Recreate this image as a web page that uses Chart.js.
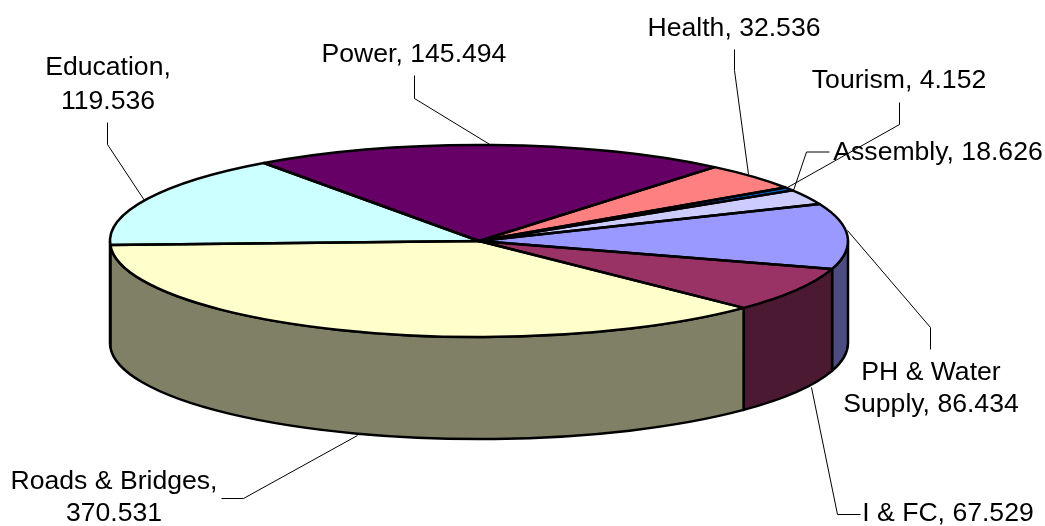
<!DOCTYPE html>
<html>
<head>
<meta charset="utf-8">
<title>Sector outlay</title>
<script src="https://cdn.jsdelivr.net/npm/chart.js@4"></script>
<style>
  html, body { margin: 0; padding: 0; background: #fff; }
  #wrap { width: 1045px; height: 526px; }
</style>
</head>
<body>
<div id="wrap"><canvas id="myChart" width="1045" height="526"></canvas></div>
<script>
const categories = ['Power', 'Health', 'Tourism', 'Assembly', 'PH & Water Supply', 'I & FC', 'Roads & Bridges', 'Education'];
const values = [145.494, 32.536, 4.152, 18.626, 86.434, 67.529, 370.531, 119.536];
const topColours = ['#660066', '#FF8080', '#0066CC', '#CCCCFF', '#9999FF', '#993366', '#FFFFCC', '#CCFFFF'];
const wallColours = ['#330033', '#804040', '#003366', '#666680', '#4C4C80', '#4C1933', '#808066', '#668080'];

// pie geometry, px
const radiusX = 369;
const radiusY = 96;
const depth = 102;

// the old 3D pie does not keep sweeps proportional, the far side is opened up a bit
const warpSize = 13 * Math.PI / 180;
const warpPeak = 5 * Math.PI / 180;
const warp = (a) => a + warpSize * Math.cos(a - warpPeak);

// text lines of each label, and the leader line running to the pie
const labelLayout = [
  { lines: [['Power, 145.494', 414, 55]], leader: [[414, 75], [414, 98], [491, 145]] },
  { lines: [['Health, 32.536', 734, 29]], leader: [[734, 49], [734, 70], [748, 174]] },
  { lines: [['Tourism, 4.152', 899, 81]], leader: [[899, 102], [899, 124], [787, 187]] },
  { lines: [['Assembly, 18.626', 938, 153]], leader: [[829, 151.5], [806, 151.5], [793, 190]] },
  { lines: [['PH & Water', 931, 373], ['Supply, 86.434', 931, 405]], leader: [[930, 349], [930, 327], [847, 230]] },
  { lines: [['I & FC, 67.529', 948, 514]], leader: [[860, 514], [837, 514], [811, 387]] },
  { lines: [['Roads & Bridges,', 114, 482], ['370.531', 114, 514]], leader: [[221, 498], [243, 498], [357, 435]] },
  { lines: [['Education,', 108, 68], ['119.536', 108, 102]], leader: [[107, 122], [107, 144], [144, 200]] },
];

const wallPath = (ctx, x, y, a, b) => {
  ctx.beginPath();
  ctx.ellipse(x, y, radiusX, radiusY, 0, a, b);
  ctx.lineTo(x + radiusX * Math.cos(b), y + radiusY * Math.sin(b) + depth);
  ctx.ellipse(x, y + depth, radiusX, radiusY, 0, b, a, true);
  ctx.closePath();
};

const pie3d = {
  id: 'pie3d',
  afterDatasetsUpdate(chart) {
    chart.getDatasetMeta(0).data.forEach((arc) => {
      arc.startAngle = warp(arc.startAngle);
      arc.endAngle = warp(arc.endAngle);
      arc.circumference = arc.endAngle - arc.startAngle;
    });
  },
  beforeDatasetsDraw(chart) {
    const { ctx } = chart;
    const arcs = chart.getDatasetMeta(0).data;
    const { x, y } = arcs[0];
    // side wall, only the near half of the rim shows
    ctx.save();
    ctx.strokeStyle = '#000';
    ctx.lineWidth = 2.5;
    ctx.lineJoin = 'round';
    arcs.forEach((arc, i) => {
      [0, 2 * Math.PI, -2 * Math.PI].forEach((turn) => {
        const a = Math.max(arc.startAngle, turn);
        const b = Math.min(arc.endAngle, turn + Math.PI);
        if (b <= a) return;
        wallPath(ctx, x, y, a, b);
        ctx.fillStyle = wallColours[i];
        ctx.fill();
        ctx.stroke();
      });
    });
    ctx.restore();
    // flatten the chart.js arcs on to the top face
    ctx.save();
    ctx.translate(x, y);
    ctx.scale(1, radiusY / radiusX);
    ctx.translate(-x, -y);
  },
  afterDatasetsDraw(chart) {
    const { ctx } = chart;
    ctx.restore();
    const arcs = chart.getDatasetMeta(0).data;
    const { x, y } = arcs[0];
    ctx.save();
    ctx.strokeStyle = '#000';
    ctx.lineWidth = 2.5;
    ctx.lineJoin = 'round';
    arcs.forEach((arc) => {
      ctx.beginPath();
      ctx.moveTo(x, y);
      ctx.ellipse(x, y, radiusX, radiusY, 0, arc.startAngle, arc.endAngle);
      ctx.closePath();
      ctx.stroke();
    });
    ctx.restore();
  },
  afterDraw(chart) {
    const { ctx } = chart;
    ctx.save();
    ctx.strokeStyle = '#000';
    ctx.lineWidth = 1;
    ctx.fillStyle = '#000';
    ctx.font = '26.6px "Liberation Sans", Arial, sans-serif';
    ctx.textAlign = 'center';
    ctx.textBaseline = 'middle';
    labelLayout.forEach((label) => {
      ctx.beginPath();
      label.leader.forEach((p, i) => {
        if (i === 0) ctx.moveTo(p[0] + 0.5, p[1] + 0.5);
        else ctx.lineTo(p[0] + 0.5, p[1] + 0.5);
      });
      ctx.stroke();
      label.lines.forEach((line) => ctx.fillText(line[0], line[1], line[2]));
    });
    ctx.restore();
  },
};

// eslint-disable-next-line no-new
new Chart(document.getElementById('myChart'), {
  type: 'pie',
  data: {
    labels: categories,
    datasets: [
      {
        data: values,
        backgroundColor: topColours,
        borderWidth: 0,
        clip: false,
      },
    ],
  },
  options: {
    responsive: false,
    animation: false,
    rotation: -28.5,
    radius: radiusX,
    layout: { padding: { right: 87, bottom: 44 } },
    plugins: {
      legend: { display: false },
      tooltip: { enabled: false },
    },
  },
  plugins: [pie3d],
});
</script>
</body>
</html>
